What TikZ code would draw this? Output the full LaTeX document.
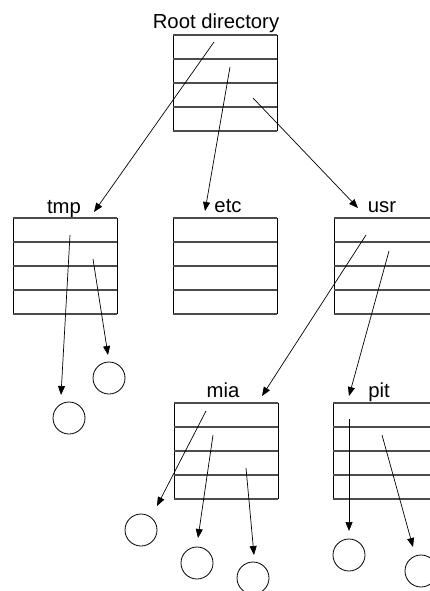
\documentclass[tikz,border=0pt]{standalone}
\usepackage{fontspec}
\setmainfont{Liberation Sans}
\usetikzlibrary{arrows.meta,calc}
\newcommand\dirbox[3]{%
  \node[boxnode] (#1) at (#2+52,#3+48) {};
  \draw[sideline] (#1.north west) -- (#1.south west);
  \draw[sideline] (#1.north east) -- (#1.south east);
  \foreach \k in {0,1,2,3,4}{
    \draw[rowline] ($(#1.north west)!\k/4!(#1.south west)$) -- ($(#1.north east)!\k/4!(#1.south east)$);
  }%
}
\begin{document}
\begin{tikzpicture}[x=1pt,y=-1pt,
  boxnode/.style={rectangle,minimum width=104pt,minimum height=96pt,inner sep=0pt,outer sep=0pt},
  sideline/.style={black,line width=0.8pt},
  rowline/.style={black!70,line width=1.3pt},
  lbl/.style={font=\fontsize{20.3}{23}\selectfont,anchor=base,inner sep=0pt},
  ptr/.style={line width=0.7pt,-{Triangle[length=9pt,width=7pt]}},
  file/.style={circle,draw,line width=0.8pt,minimum size=32pt,inner sep=0pt}]
\useasboundingbox (0,0) rectangle (429,591);
% labels
\node[lbl] (lroot) at (216,29) {Root directory};
\node[lbl] (ltmp) at (64,213) {tmp};
\node[lbl] (letc) at (228,212) {etc};
\node[lbl] (lusr) at (382,212) {usr};
\node[lbl] (lmia) at (223,397) {mia};
\node[lbl] (lpit) at (379,397) {pit};
% boxes
\dirbox{root}{173}{35}
\dirbox{tmp}{13}{218}
\dirbox{etc}{173}{218}
\dirbox{usr}{334}{218}
\dirbox{mia}{174}{403}
\dirbox{pit}{333}{403}
% files
\node[file] (f1) at (69,418) {};
\node[file] (f2) at (109,378) {};
\node[file] (f3) at (141,530) {};
\node[file] (f4) at (197,563) {};
\node[file] (f5) at (253,578) {};
\node[file] (f6) at (349,555) {};
\node[file] (f7) at (421,571) {};
% pointer starts and ends
\coordinate (r1) at (214,42);
\coordinate (r2) at (230,67);
\coordinate (r3) at (253,98);
\coordinate (e1) at (94,212);
\coordinate (e2) at (205,211);
\coordinate (e3) at (358,208);
\coordinate (t1) at (70,235);
\coordinate (t2) at (93,259);
\coordinate (te1) at (61,395);
\coordinate (te2) at (108,355);
\coordinate (u1) at (366,235);
\coordinate (u2) at (389,251);
\coordinate (ue1) at (262,396);
\coordinate (ue2) at (349,396);
\coordinate (m1) at (206,411);
\coordinate (m2) at (213,435);
\coordinate (m3) at (246,468);
\coordinate (me1) at (157,506);
\coordinate (me2) at (198,538);
\coordinate (me3) at (254,555);
\coordinate (p1) at (349,419);
\coordinate (p2) at (382,435);
\coordinate (pe1) at (349,531);
\coordinate (pe2) at (413,547);
\draw[ptr] (r1) -- (e1);
\draw[ptr] (r2) -- (e2);
\draw[ptr] (r3) -- (e3);
\draw[ptr] (t1) -- (te1);
\draw[ptr] (t2) -- (te2);
\draw[ptr] (u1) -- (ue1);
\draw[ptr] (u2) -- (ue2);
\draw[ptr] (m1) -- (me1);
\draw[ptr] (m2) -- (me2);
\draw[ptr] (m3) -- (me3);
\draw[ptr] (p1) -- (pe1);
\draw[ptr] (p2) -- (pe2);
\end{tikzpicture}
\end{document}
